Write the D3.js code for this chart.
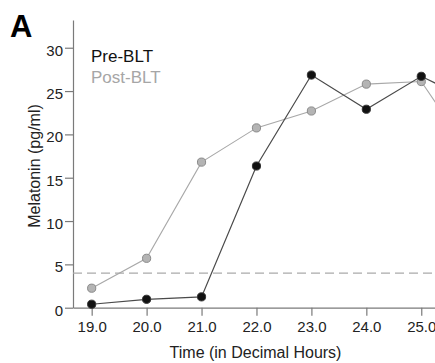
<!DOCTYPE html>
<html>
<head>
<meta charset="utf-8">
<script src="https://cdn.jsdelivr.net/npm/d3@7"></script>
<style>
  html, body { margin: 0; padding: 0; background: #fff; overflow: hidden; }
  svg { display: block; font-family: "Liberation Sans", Arial, sans-serif; }
</style>
</head>
<body>
<svg id="chart" width="435" height="363"></svg>
<script>
// ---- data ----
const hours = [19.0, 20.0, 21.0, 22.0, 23.0, 24.0, 25.0, 26.0];
const preBLT = [0.4, 0.97, 1.25, 16.35, 26.85, 22.9, 26.7, 23.6];
const postBLT = [2.25, 5.7, 16.8, 20.75, 22.7, 25.8, 26.1, 16.8];
const xTicks = [19.0, 20.0, 21.0, 22.0, 23.0, 24.0, 25.0];
const yTicks = [0, 5, 10, 15, 20, 25, 30];
const threshold = [4];
const seriesNames = ["Pre-BLT", "Post-BLT"];

const svg = d3.select("#chart");
const W = 435, H = 363;

const x = d3.scaleLinear().domain([18.66, 25.25]).range([73, 435]);
const y = d3.scaleLinear().domain([0, 33.2]).range([307.7, 20]);

const axisColor = "#7a7a7a";

svg.append("defs").append("clipPath").attr("id", "clip")
  .append("rect").attr("x", 0).attr("y", 0).attr("width", W).attr("height", H);

// y axis
const yAxis = svg.append("g").attr("transform", `translate(${x.range()[0]},0)`)
  .call(d3.axisLeft(y).tickValues(yTicks).tickFormat(d3.format("d")).tickSize(8).tickPadding(2).tickSizeOuter(0));
yAxis.select(".domain").attr("stroke", axisColor).attr("stroke-width", 1.2);
yAxis.selectAll(".tick line").attr("stroke", axisColor).attr("stroke-width", 1.2);
yAxis.selectAll(".tick text").attr("font-size", 15).attr("fill", "#222").attr("dy", "0.5em")
  .attr("font-family", "Liberation Sans, Arial, sans-serif");

// x axis
const xAxis = svg.append("g").attr("transform", `translate(0,${y(0)})`)
  .call(d3.axisBottom(x).tickValues(xTicks).tickFormat(d3.format(".1f")).tickSize(8).tickPadding(6).tickSizeOuter(0));
xAxis.select(".domain").attr("stroke", axisColor).attr("stroke-width", 1.2);
xAxis.selectAll(".tick line").attr("stroke", axisColor).attr("stroke-width", 1.2);
xAxis.selectAll(".tick text").attr("font-size", 15).attr("fill", "#222")
  .attr("font-family", "Liberation Sans, Arial, sans-serif");

// threshold dashed line
svg.selectAll("line.thr").data(threshold).enter().append("line")
  .attr("class", "thr")
  .attr("x1", x.range()[0]).attr("x2", W)
  .attr("y1", d => y(d)).attr("y2", d => y(d))
  .attr("stroke", "#aaaaaa").attr("stroke-width", 1.2).attr("stroke-dasharray", "9,5");

const plot = svg.append("g").attr("clip-path", "url(#clip)");

const line = d3.line().x((d, i) => x(hours[i])).y(d => y(d));

plot.append("path").datum(postBLT).attr("d", line)
  .attr("fill", "none").attr("stroke", "#a8a8a8").attr("stroke-width", 1.1);
plot.append("path").datum(preBLT).attr("d", line)
  .attr("fill", "none").attr("stroke", "#4a4a4a").attr("stroke-width", 1.2);

plot.selectAll("circle.post").data(postBLT).enter().append("circle")
  .attr("class", "post")
  .attr("cx", (d, i) => x(hours[i])).attr("cy", d => y(d)).attr("r", 4.1)
  .attr("fill", "#b4b4b4").attr("stroke", "#8a8a8a").attr("stroke-width", 1);
plot.selectAll("circle.pre").data(preBLT).enter().append("circle")
  .attr("class", "pre")
  .attr("cx", (d, i) => x(hours[i])).attr("cy", d => y(d)).attr("r", 4.1)
  .attr("fill", "#111").attr("stroke", "#333").attr("stroke-width", 1);

// legend
const legendColors = ["#111111", "#a6a6a6"];
svg.selectAll("text.leg").data(seriesNames).enter().append("text")
  .attr("class", "leg")
  .attr("x", 91).attr("y", (d, i) => 62 + i * 21)
  .attr("font-size", 17).attr("fill", (d, i) => legendColors[i])
  .text(d => d);

// axis titles
svg.append("text").attr("x", 255.5).attr("y", 358).attr("text-anchor", "middle")
  .attr("font-size", 16).attr("fill", "#222").text("Time (in Decimal Hours)");
svg.append("text").attr("transform", "translate(40,166) rotate(-90)")
  .attr("text-anchor", "middle").attr("font-size", 16).attr("fill", "#222")
  .text("Melatonin (pg/ml)");

// panel letter
svg.append("text").attr("x", 10).attr("y", 37).attr("font-size", 31)
  .attr("font-weight", "bold").attr("fill", "#000").text("A");
</script>
</body>
</html>
